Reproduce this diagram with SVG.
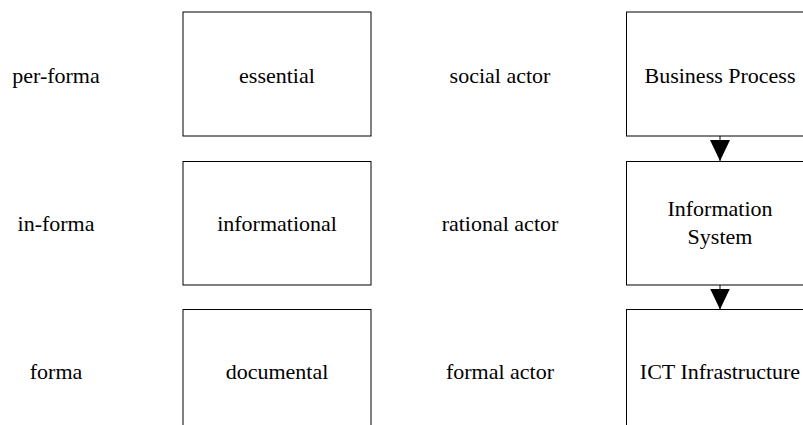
<svg xmlns="http://www.w3.org/2000/svg" width="803" height="425" viewBox="0 0 803 425">
<style>
text{font-family:"Liberation Serif","Times New Roman",serif;font-size:22px;fill:#000;text-anchor:middle}
.box{fill:#fff;stroke:#000;stroke-width:1}
.conn{stroke:#000;stroke-width:1;fill:none}
</style>
<defs>
<marker id="arr" markerWidth="20" markerHeight="21" refX="10" refY="21" orient="0" markerUnits="userSpaceOnUse">
<path d="M0,0 L20,0 L10,21 Z" fill="#000"/>
</marker>
</defs>
<rect width="803" height="425" fill="#fff"/>
<g id="labels">
<text x="56" y="83">per-forma</text>
<text x="56" y="231">in-forma</text>
<text x="56" y="379">forma</text>
<text x="500" y="83">social actor</text>
<text x="500" y="231">rational actor</text>
<text x="500" y="379">formal actor</text>
</g>
<g id="essential"><rect class="box" x="183" y="12" width="188" height="124"/><text x="277" y="83">essential</text></g>
<g id="informational"><rect class="box" x="183" y="161.5" width="188" height="123.5"/><text x="277" y="231">informational</text></g>
<g id="documental"><rect class="box" x="183" y="309.5" width="188" height="124"/><text x="277" y="379">documental</text></g>
<g id="business-process"><rect class="box" x="626.5" y="12" width="188" height="124"/><text x="720" y="83">Business Process</text></g>
<g id="information-system"><rect class="box" x="626.5" y="161.5" width="188" height="123.5"/><text x="720" y="216">Information</text><text x="720" y="244">System</text></g>
<g id="ict-infrastructure"><rect class="box" x="626.5" y="309.5" width="188" height="124"/><text x="720" y="379">ICT Infrastructure</text></g>
<g id="connectors">
<line class="conn" x1="720" y1="136" x2="720" y2="161" marker-end="url(#arr)"/>
<line class="conn" x1="720" y1="285" x2="720" y2="309.5" marker-end="url(#arr)"/>
</g>
</svg>
